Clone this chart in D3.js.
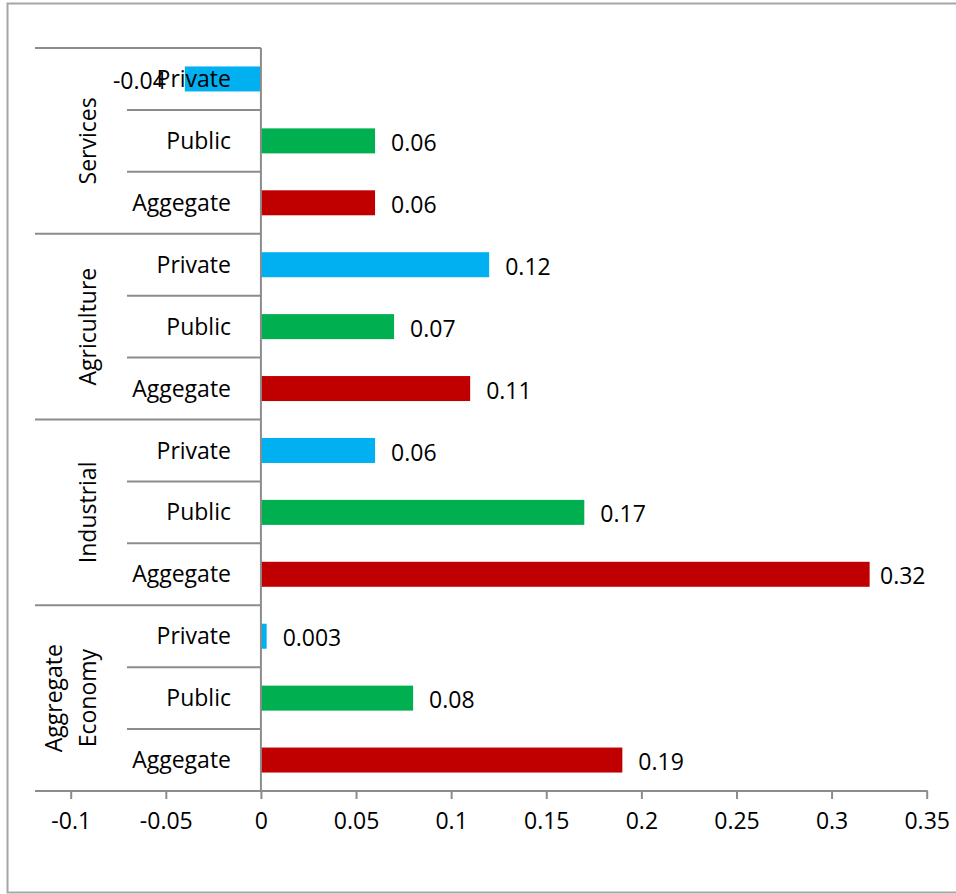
<!DOCTYPE html>
<html><head><meta charset="utf-8">
<script src="https://cdn.jsdelivr.net/npm/d3@7"></script>
<style>
html,body{margin:0;padding:0;background:#fff;}
svg text{font-family:"Open Sans", sans-serif;fill:#000;}
</style></head>
<body>
<svg id="chart" width="956" height="894"></svg>
<script>
// Data (groups listed bottom to top, as in the chart)
const groups = ["Aggregate Economy", "Industrial", "Agriculture", "Services"];
const subcategories = ["Aggegate", "Public", "Private"];
const aggregateValues = [0.19, 0.32, 0.11, 0.06];
const publicValues = [0.08, 0.17, 0.07, 0.06];
const privateValues = [0.003, 0.06, 0.12, -0.04];
const valueLabels = {
  Aggegate: ["0.19", "0.32", "0.11", "0.06"],
  Public: ["0.08", "0.17", "0.07", "0.06"],
  Private: ["0.003", "0.06", "0.12", "-0.04"]
};
const xTicks = [-0.1, -0.05, 0, 0.05, 0.1, 0.15, 0.2, 0.25, 0.3, 0.35];
const xTickLabels = ["-0.1", "-0.05", "0", "0.05", "0.1", "0.15", "0.2", "0.25", "0.3", "0.35"];
const colors = {Aggegate: "#C00000", Public: "#00B050", Private: "#00B0F0"};

const seriesBySub = {Aggegate: aggregateValues, Public: publicValues, Private: privateValues};
const rows = [];
groups.forEach((g, gi) => {
  subcategories.forEach(s => {
    rows.push({group: g, gi, sub: s, value: seriesBySub[s][gi], label: valueLabels[s][gi], key: g + "|" + s});
  });
});
const order = rows.slice().reverse(); // top to bottom

const svg = d3.select("#chart");
const fontSize = 23;
const fontFamily = "'Open Sans', sans-serif";
const gridColor = "#8c8c8c";

// outer frame
svg.append("rect").attr("x", 7.5).attr("y", 3.5).attr("width", 970).attr("height", 889)
  .attr("fill", "none").attr("stroke", "#a6a6a6").attr("stroke-width", 2);

const x = d3.scaleLinear().domain([-0.1, 0.35]).range([70.7, 926.7]);
const y = d3.scaleBand().domain(order.map(d => d.key)).range([48, 791]).paddingInner(0).paddingOuter(0);
const barH = 25;

// bars
svg.append("g").selectAll("rect").data(order).join("rect")
  .attr("x", d => x(Math.min(0, d.value)))
  .attr("width", d => Math.abs(x(d.value) - x(0)))
  .attr("y", d => y(d.key) + y.bandwidth() / 2 - barH / 2)
  .attr("height", barH)
  .attr("fill", d => colors[d.sub]);

// x axis
const xAxis = d3.axisBottom(x).tickValues(xTicks).tickSize(8).tickPadding(14)
  .tickFormat((d, i) => xTickLabels[i]);
const ax = svg.append("g").attr("transform", "translate(0,791)").call(xAxis);
ax.select(".domain").remove();
ax.selectAll(".tick line").attr("stroke", gridColor).attr("stroke-width", 2);
ax.selectAll(".tick text").attr("font-size", fontSize).attr("font-family", fontFamily).attr("fill", "#000");
svg.append("line").attr("x1", 35).attr("x2", x(0.35) + 1).attr("y1", 791).attr("y2", 791)
  .attr("stroke", gridColor).attr("stroke-width", 2);

// vertical axis line at 0
svg.append("line").attr("x1", x(0)).attr("x2", x(0)).attr("y1", 48).attr("y2", 791)
  .attr("stroke", gridColor).attr("stroke-width", 2);

// separators between rows
const boundaries = order.map((d, i) => ({y: y(d.key), top: i % 3 === 0}));
svg.append("g").selectAll("line").data(boundaries).join("line")
  .attr("x1", d => d.top ? 35 : 127).attr("x2", x(0))
  .attr("y1", d => d.y).attr("y2", d => d.y)
  .attr("stroke", gridColor).attr("stroke-width", 2);

// subcategory labels
svg.append("g").selectAll("text").data(order).join("text")
  .attr("x", 231).attr("y", d => y(d.key) + y.bandwidth() / 2)
  .attr("dy", "0.35em").attr("text-anchor", "end").attr("font-size", fontSize)
  .text(d => d.sub);

// group labels (rotated)
groups.forEach((g, gi) => {
  const keys = subcategories.map(s => g + "|" + s);
  const yTop = d3.min(keys, k => y(k));
  const yBot = d3.max(keys, k => y(k) + y.bandwidth());
  const cy = (yTop + yBot) / 2;
  const words = g === "Aggregate Economy" ? ["Aggregate", "Economy"] : [g];
  const lineGap = 34;
  words.forEach((w, wi) => {
    const cx = 88 - (words.length - 1 - wi) * lineGap;
    svg.append("text").attr("transform", `translate(${cx},${cy}) rotate(-90)`)
      .attr("text-anchor", "middle").attr("dy", "0.35em").attr("font-size", fontSize)
      .text(w);
  });
});

// value labels
svg.append("g").selectAll("text").data(order).join("text")
  .attr("x", d => d.value < 0 ? x(d.value) - 19 : Math.min(x(d.value) + 16, 880))
  .attr("text-anchor", d => d.value < 0 ? "end" : "start")
  .attr("y", d => y(d.key) + y.bandwidth() / 2 + 2)
  .attr("dy", "0.35em").attr("font-size", fontSize)
  .text(d => d.label);
</script>
</body></html>
